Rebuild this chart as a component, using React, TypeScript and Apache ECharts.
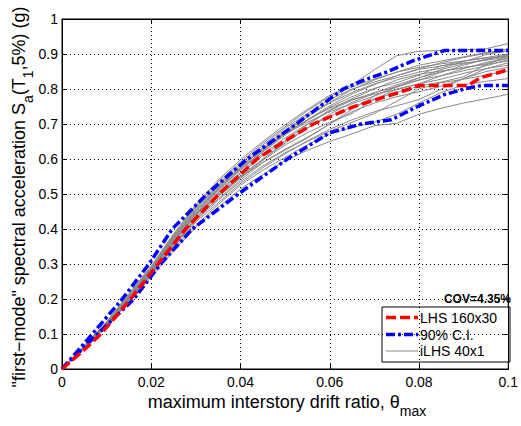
import React, { useEffect, useRef } from 'react';
import * as echarts from 'echarts';

// drift grid shared by the iLHS single-record curves
const driftGrid = [0, 0.01, 0.02, 0.025, 0.03, 0.035, 0.04, 0.045, 0.05, 0.055, 0.06, 0.065, 0.07, 0.075, 0.08, 0.085, 0.09, 0.095, 0.1];

// iLHS 40x1 curves (Sa values at driftGrid)
const grayCurves = [
  [0, 0.120, 0.262, 0.338, 0.405, 0.462, 0.515, 0.555, 0.595, 0.625, 0.650, 0.672, 0.695, 0.702, 0.728, 0.745, 0.760, 0.772, 0.785],
  [0, 0.122, 0.268, 0.345, 0.410, 0.470, 0.525, 0.568, 0.605, 0.640, 0.672, 0.690, 0.705, 0.728, 0.760, 0.790, 0.812, 0.822, 0.830],
  [0, 0.124, 0.270, 0.350, 0.420, 0.475, 0.530, 0.575, 0.615, 0.652, 0.685, 0.712, 0.735, 0.752, 0.770, 0.800, 0.830, 0.850, 0.862],
  [0, 0.125, 0.272, 0.352, 0.425, 0.482, 0.535, 0.580, 0.618, 0.650, 0.680, 0.705, 0.730, 0.765, 0.800, 0.818, 0.828, 0.840, 0.852],
  [0, 0.126, 0.275, 0.356, 0.428, 0.486, 0.540, 0.590, 0.628, 0.662, 0.700, 0.735, 0.760, 0.778, 0.792, 0.808, 0.830, 0.858, 0.875],
  [0, 0.127, 0.273, 0.354, 0.432, 0.492, 0.545, 0.596, 0.640, 0.675, 0.705, 0.730, 0.770, 0.800, 0.815, 0.828, 0.845, 0.858, 0.868],
  [0, 0.128, 0.278, 0.360, 0.436, 0.496, 0.548, 0.600, 0.645, 0.690, 0.722, 0.748, 0.772, 0.790, 0.808, 0.820, 0.835, 0.870, 0.895],
  [0, 0.128, 0.280, 0.362, 0.440, 0.500, 0.552, 0.598, 0.650, 0.688, 0.728, 0.762, 0.788, 0.812, 0.832, 0.850, 0.862, 0.870, 0.880],
  [0, 0.129, 0.281, 0.366, 0.443, 0.504, 0.558, 0.610, 0.652, 0.698, 0.738, 0.768, 0.790, 0.806, 0.825, 0.848, 0.868, 0.885, 0.898],
  [0, 0.130, 0.283, 0.368, 0.446, 0.508, 0.562, 0.615, 0.660, 0.700, 0.740, 0.772, 0.800, 0.826, 0.842, 0.852, 0.860, 0.872, 0.888],
  [0, 0.130, 0.282, 0.370, 0.450, 0.512, 0.568, 0.620, 0.668, 0.710, 0.748, 0.778, 0.802, 0.818, 0.840, 0.866, 0.880, 0.890, 0.900],
  [0, 0.131, 0.285, 0.372, 0.452, 0.515, 0.572, 0.622, 0.672, 0.712, 0.752, 0.786, 0.812, 0.838, 0.856, 0.866, 0.874, 0.882, 0.892],
  [0, 0.132, 0.287, 0.375, 0.455, 0.520, 0.576, 0.628, 0.678, 0.720, 0.760, 0.790, 0.815, 0.832, 0.848, 0.860, 0.878, 0.898, 0.910],
  [0, 0.132, 0.289, 0.378, 0.460, 0.524, 0.580, 0.632, 0.682, 0.725, 0.762, 0.798, 0.826, 0.848, 0.862, 0.872, 0.880, 0.888, 0.896],
  [0, 0.133, 0.290, 0.380, 0.462, 0.528, 0.586, 0.640, 0.688, 0.730, 0.770, 0.800, 0.820, 0.838, 0.858, 0.875, 0.890, 0.902, 0.908],
  [0, 0.134, 0.292, 0.383, 0.466, 0.535, 0.592, 0.645, 0.692, 0.738, 0.778, 0.806, 0.828, 0.848, 0.868, 0.880, 0.892, 0.904, 0.915],
  [0, 0.135, 0.295, 0.386, 0.470, 0.540, 0.598, 0.650, 0.698, 0.742, 0.782, 0.812, 0.855, 0.895, 0.908, 0.910, 0.912, 0.915, 0.930],
  [0, 0.126, 0.276, 0.364, 0.445, 0.512, 0.570, 0.625, 0.675, 0.712, 0.745, 0.770, 0.785, 0.798, 0.815, 0.838, 0.858, 0.876, 0.888],
  [0, 0.129, 0.283, 0.367, 0.442, 0.498, 0.548, 0.590, 0.625, 0.660, 0.700, 0.742, 0.780, 0.808, 0.826, 0.838, 0.852, 0.866, 0.884],
  [0, 0.131, 0.286, 0.374, 0.454, 0.518, 0.575, 0.630, 0.672, 0.705, 0.735, 0.758, 0.780, 0.805, 0.832, 0.856, 0.872, 0.884, 0.895],
];

// LHS 160x30 median curve
const lhsDrift = [0, 0.005, 0.0087, 0.0154, 0.0215, 0.0277, 0.0352, 0.0437, 0.05, 0.0563, 0.06, 0.065, 0.0705, 0.0779, 0.08, 0.091, 0.0939, 0.1];
const lhsSa = [0, 0.055, 0.1, 0.2, 0.3, 0.4, 0.5, 0.6, 0.652, 0.7, 0.72, 0.748, 0.77, 0.8, 0.81, 0.81, 0.833, 0.855];

// 90% confidence interval bounds
const ciUpperDrift = [0, 0.0068, 0.0135, 0.0195, 0.0247, 0.0325, 0.0415, 0.0525, 0.063, 0.068, 0.0723, 0.0783, 0.0857, 0.1];
const ciUpperSa = [0, 0.1, 0.2, 0.3, 0.4, 0.5, 0.6, 0.7, 0.8, 0.827, 0.846, 0.879, 0.91, 0.91];
const ciLowerDrift = [0, 0.008, 0.0161, 0.0221, 0.0292, 0.0395, 0.0505, 0.06, 0.067, 0.0738, 0.0797, 0.0857, 0.091, 0.094, 0.1];
const ciLowerSa = [0, 0.1, 0.2, 0.3, 0.4, 0.5, 0.6, 0.675, 0.7, 0.712, 0.75, 0.784, 0.803, 0.81, 0.81];

const legendLabels = ['LHS 160x30', '90% C.I.', 'iLHS 40x1'];
const covText = 'COV=4.35%';

const zip = (xs: number[], ys: number[]) => xs.map((x, i) => [x, ys[i]]);

const FONT = '"Liberation Sans", Arial, Helvetica, sans-serif';
const RED = '#ff0000';
const BLUE = '#0000ff';
const GRAY = '#8a8a8a';
const DASH = [10, 4];
const DASHDOT = [9, 3, 3, 3];

export default function App() {
  const ref = useRef<HTMLDivElement>(null);
  useEffect(() => {
    document.body.style.margin = '0';
    const chart = echarts.init(ref.current!, null, { renderer: 'svg' });

    const axisCommon = {
      type: 'value' as const,
      axisLine: { show: true, onZero: false, lineStyle: { color: '#000', width: 1 } },
      axisTick: { show: true, inside: true, length: 5, lineStyle: { color: '#000', width: 1 } },
    };

    const graySeries = grayCurves.map((c) => ({
      type: 'line',
      name: legendLabels[2],
      data: zip(driftGrid, c),
      showSymbol: false,
      symbol: 'none',
      silent: true,
      lineStyle: { color: GRAY, width: 1 },
      z: 2,
    }));

    const boldLine = (name: string, data: number[][], color: string, type: number[], z: number) => ({
      type: 'line',
      name,
      data,
      showSymbol: false,
      symbol: 'none',
      silent: true,
      lineStyle: { color, width: 3.5, type, cap: 'butt' },
      z,
    });

    const legendX = 382;
    const legendY = 307;
    const rowY = [317.5, 334.5, 351];

    const option: any = {
      animation: false,
      backgroundColor: '#fff',
      grid: { left: 62, right: 10, top: 19, bottom: 57, show: true, borderColor: '#000', borderWidth: 1, backgroundColor: '#fff' },
      xAxis: [
        {
          ...axisCommon,
          position: 'bottom',
          min: 0,
          max: 0.1,
          interval: 0.02,
          axisLabel: { color: '#000', fontSize: 14, fontFamily: FONT, margin: 6 },
          splitLine: { show: true, lineStyle: { color: '#000', type: [1, 3], width: 1 } },
        },
        {
          ...axisCommon,
          position: 'top',
          min: 0,
          max: 0.1,
          interval: 0.02,
          axisLabel: { show: false },
          splitLine: { show: false },
        },
      ],
      yAxis: [
        {
          ...axisCommon,
          position: 'left',
          min: 0,
          max: 1,
          interval: 0.1,
          axisLabel: { color: '#000', fontSize: 14, fontFamily: FONT, margin: 4 },
          splitLine: { show: true, lineStyle: { color: '#000', type: [1, 3], width: 1 } },
        },
        {
          ...axisCommon,
          position: 'right',
          min: 0,
          max: 1,
          interval: 0.1,
          axisLabel: { show: false },
          splitLine: { show: false },
        },
      ],
      series: [
        ...graySeries,
        boldLine(legendLabels[1], zip(ciUpperDrift, ciUpperSa), BLUE, DASHDOT, 3),
        boldLine(legendLabels[1], zip(ciLowerDrift, ciLowerSa), BLUE, DASHDOT, 3),
        boldLine(legendLabels[0], zip(lhsDrift, lhsSa), RED, DASH, 4),
      ],
      graphic: [
        {
          type: 'text',
          x: 287,
          y: 402,
          z: 10,
          style: {
            text: '{m|maximum interstory drift ratio, θ}{s|max}',
            rich: {
              m: { fontSize: 18, fontFamily: FONT, lineHeight: 32, fill: '#000', verticalAlign: 'middle' },
              s: { fontSize: 14, fontFamily: FONT, lineHeight: 14, fill: '#000', verticalAlign: 'bottom' },
            },
            align: 'center',
            verticalAlign: 'middle',
            textAlign: 'center',
            textVerticalAlign: 'middle',
          },
        },
        {
          type: 'text',
          x: 19,
          y: 197,
          rotation: Math.PI / 2,
          z: 10,
          style: {
            text: '{m|"first−mode" spectral acceleration S}{s|a}{m|(T}{s|1}{m|,5%) (g)}',
            rich: {
              m: { fontSize: 18, fontFamily: FONT, lineHeight: 32, fill: '#000', verticalAlign: 'middle' },
              s: { fontSize: 14, fontFamily: FONT, lineHeight: 14, fill: '#000', verticalAlign: 'bottom' },
            },
            align: 'center',
            verticalAlign: 'middle',
            textAlign: 'center',
            textVerticalAlign: 'middle',
          },
        },
        {
          type: 'text',
          x: 511,
          y: 299,
          z: 10,
          style: {
            text: covText,
            fontSize: 12,
            fontWeight: 'bold',
            fontFamily: FONT,
            fill: '#000',
            align: 'right',
            verticalAlign: 'middle',
            textAlign: 'right',
            textVerticalAlign: 'middle',
          },
        },
        {
          type: 'group',
          z: 10,
          children: [
            {
              type: 'rect',
              shape: { x: legendX, y: legendY, width: 128, height: 55 },
              style: { fill: '#fff', stroke: '#000', lineWidth: 1 },
            },
            {
              type: 'line',
              shape: { x1: 386, y1: rowY[0], x2: 418, y2: rowY[0] },
              style: { stroke: RED, lineWidth: 3.5, lineDash: DASH },
            },
            {
              type: 'line',
              shape: { x1: 386, y1: rowY[1], x2: 418, y2: rowY[1] },
              style: { stroke: BLUE, lineWidth: 3.5, lineDash: DASHDOT },
            },
            {
              type: 'line',
              shape: { x1: 386, y1: rowY[2], x2: 418, y2: rowY[2] },
              style: { stroke: GRAY, lineWidth: 1 },
            },
            ...legendLabels.map((t, i) => ({
              type: 'text',
              x: 420,
              y: rowY[i],
              style: {
                text: t,
                fontSize: 14,
                fontFamily: FONT,
                fill: '#000',
                align: 'left',
                verticalAlign: 'middle',
                textAlign: 'left',
                textVerticalAlign: 'middle',
              },
            })),
          ],
        },
      ],
    };

    chart.setOption(option);
    return () => chart.dispose();
  }, []);

  return <div ref={ref} style={{ position: 'absolute', left: 0, top: 0, width: 521, height: 426 }} />;
}
